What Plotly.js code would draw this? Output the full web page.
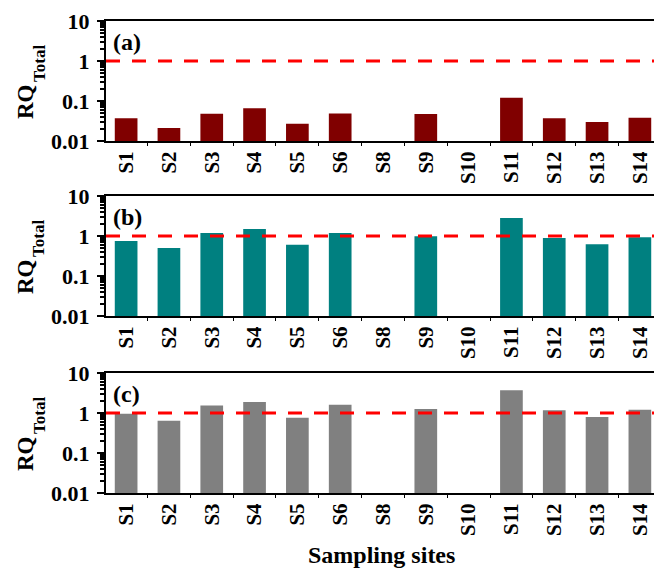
<!DOCTYPE html>
<html>
<head>
<meta charset="utf-8">
<script src="https://cdn.plot.ly/plotly-3.0.1.min.js"></script>
<style>html,body{margin:0;padding:0;background:#fff;}</style>
</head>
<body>
<div id="chart" style="width:654px;height:570px;"></div>
<script>
// ---- data ----
const sites = ['S1','S2','S3','S4','S5','S6','S8','S9','S10','S11','S12','S13','S14'];
const rqA = [0.037, 0.021, 0.048, 0.066, 0.027, 0.049, null, 0.047, null, 0.12, 0.037, 0.030, 0.038];
const rqB = [0.75, 0.50, 1.19, 1.50, 0.60, 1.19, null, 0.98, null, 2.8, 0.89, 0.62, 0.93];
const rqC = [0.96, 0.64, 1.53, 1.88, 0.76, 1.61, null, 1.26, null, 3.7, 1.17, 0.79, 1.21];
const panelLabels = ['(a)', '(b)', '(c)'];
const colors = ['#800000', '#008080', '#808080'];
const threshold = 1;
const yTickVals = [0.01, 0.1, 1, 10];
const yTickText = ['0.01', '0.1', '1', '10'];
const yTitleMain = 'RQ';
const yTitleSub = 'Total';
const xTitle = 'Sampling sites';

// ---- layout helpers ----
const W = 654, H = 570, L = 106;
const FONT = 'Liberation Serif, Times New Roman, serif';
const panelsPx = [[21, 141], [196, 316], [373, 493]]; // top, bottom in px
const minorVals = [];
[0.01, 0.1, 1].forEach(d => { for (let k = 2; k <= 9; k++) minorVals.push(+(d * k).toPrecision(3)); });

const series = [rqA, rqB, rqC];
const traces = series.map((vals, i) => ({
  type: 'bar',
  x: sites,
  y: vals,
  xaxis: i === 0 ? 'x' : 'x' + (i + 1),
  yaxis: i === 0 ? 'y' : 'y' + (i + 1),
  marker: { color: colors[i], line: { width: 0 } },
  hoverinfo: 'skip',
  showlegend: false
}));

const layout = {
  width: W, height: H,
  margin: { l: L, r: 0, t: 0, b: 0 },
  paper_bgcolor: '#fff', plot_bgcolor: '#fff',
  bargap: 0.47,
  font: { family: FONT, color: '#000', size: 16 },
  shapes: [],
  annotations: []
};

const paperX = px => (px - L) / (W - L);
const paperY = py => 1 - py / H;

panelsPx.forEach((p, i) => {
  const sfx = i === 0 ? '' : String(i + 1);
  const mid = (p[0] + p[1]) / 2;
  layout['xaxis' + sfx] = {
    type: 'category',
    anchor: 'y' + sfx,
    domain: [0, 1],
    range: [-0.47, 12.33],
    showline: true, linewidth: 2, linecolor: '#000', mirror: true,
    ticks: 'outside', tickson: 'boundaries', ticklen: 3, tickwidth: 1, tickcolor: '#000',
    tickangle: -90,
    tickfont: { family: FONT, size: 21, weight: 700, color: '#000' },
    showgrid: false, zeroline: false, automargin: false, fixedrange: true
  };
  layout['yaxis' + sfx] = {
    type: 'log',
    anchor: 'x' + sfx,
    domain: [paperY(p[1]), paperY(p[0])],
    range: [-2, 1],
    tickvals: yTickVals, ticktext: yTickText,
    ticks: 'outside', ticklen: 7, tickwidth: 2, tickcolor: '#000',
    minor: { tickvals: minorVals, ticks: 'outside', ticklen: 4, tickwidth: 1.5, tickcolor: '#000', showgrid: false },
    tickfont: { family: FONT, size: 22, weight: 700, color: '#000' },
    ticklabelstandoff: 3,
    showline: true, linewidth: 2, linecolor: '#000', mirror: false,
    showgrid: false, zeroline: false, automargin: false, fixedrange: true
  };
  layout.shapes.push({
    type: 'line', xref: 'x' + sfx + ' domain', yref: 'y' + sfx,
    x0: 0, x1: 1, y0: threshold, y1: threshold,
    line: { color: '#ff0000', width: 3, dash: '14px,12px' }
  });
  // panel label
  layout.annotations.push({
    xref: 'paper', yref: 'paper',
    x: paperX(111), y: paperY(p[0] + 21),
    xanchor: 'left', yanchor: 'middle',
    text: panelLabels[i],
    showarrow: false,
    font: { family: FONT, size: 24, weight: 700, color: '#000' }
  });
  // y title: main part
  layout.annotations.push({
    xref: 'paper', yref: 'paper',
    x: paperX(25), y: paperY(mid + 20),
    xanchor: 'center', yanchor: 'middle',
    textangle: -90,
    text: yTitleMain,
    showarrow: false,
    font: { family: FONT, size: 23, weight: 700, color: '#000' }
  });
  // y title: subscript part
  layout.annotations.push({
    xref: 'paper', yref: 'paper',
    x: paperX(39), y: paperY(mid - 17),
    xanchor: 'center', yanchor: 'middle',
    textangle: -90,
    text: yTitleSub,
    showarrow: false,
    font: { family: FONT, size: 17, weight: 700, color: '#000' }
  });
});

layout.annotations.push({
  xref: 'paper', yref: 'paper',
  x: paperX(381), y: paperY(555),
  xanchor: 'center', yanchor: 'middle',
  text: xTitle,
  showarrow: false,
  font: { family: FONT, size: 24, weight: 700, color: '#000' }
});

Plotly.newPlot('chart', traces, layout, { displayModeBar: false, staticPlot: true }).then(gd => {
  // drop the empty axis-title placeholders Plotly leaves behind
  gd.querySelectorAll('text').forEach(t => {
    if (!t.textContent.replace(/[\s\u200b]/g, '')) t.remove();
  });
});
</script>
</body>
</html>
